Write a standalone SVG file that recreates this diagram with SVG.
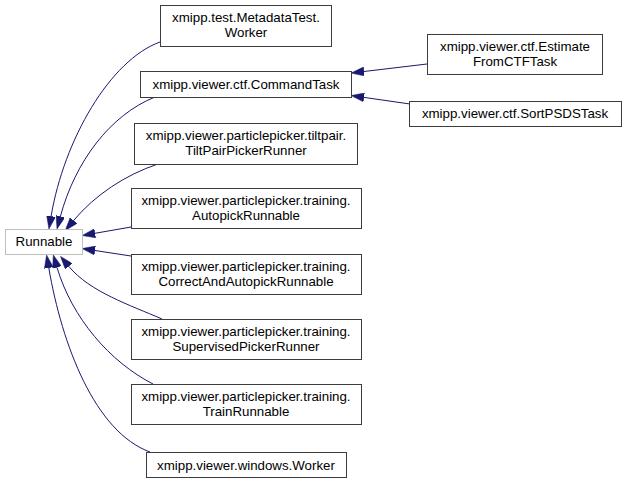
<svg xmlns="http://www.w3.org/2000/svg" width="627" height="482" viewBox="0 0 627 482">
<style>
.n rect{fill:#fff;stroke:#3c3c3c;stroke-width:1}
.base rect{fill:#fff;stroke:#bfbfbf;stroke-width:1}
text{font-family:"Liberation Sans",Arial,Helvetica,sans-serif;font-size:13.3px;fill:#000;text-anchor:middle}
.e path{fill:none;stroke:#191970;stroke-width:1;marker-end:url(#ah)}
</style>
<defs>
<marker id="ah" markerUnits="userSpaceOnUse" markerWidth="13" markerHeight="9" viewBox="0 0 13 9" refX="0" refY="4.5" orient="auto">
<path d="M0,0 L13,4.5 L0,9 z" fill="#191970" stroke="#191970" stroke-width="0.5"/>
</marker>
</defs>
<rect width="627" height="482" fill="#fff"/>
<g id="edges" class="e">
<path d="M160,42 C110,60 64,140 51.1,216.2"/>
<path d="M155,97 C110,115 75,162 60.4,216.4"/>
<path d="M158,164 C125,175 95,195 73.6,220.5"/>
<path d="M131,227 L95,233.3"/>
<path d="M131,256 L95,250.5"/>
<path d="M162,319 C130,305 90,292 68.8,266.4"/>
<path d="M153,384 C110,362 72,318 57,267.4"/>
<path d="M150,452 C95,432 62,345 48.8,267.9"/>
<path d="M427,64 L364,71.5"/>
<path d="M410,104 L364,97.4"/>
</g>
<g id="runnable" class="base"><rect x="5.5" y="229.5" width="77" height="25"/><text x="44" y="246">Runnable</text></g>
<g id="metadatatest_worker" class="n"><rect x="160.5" y="5.5" width="171" height="41"/><text x="246" y="22">xmipp.test.MetadataTest.</text><text x="246" y="37">Worker</text></g>
<g id="commandtask" class="n"><rect x="140.5" y="71.5" width="211" height="26"/><text x="246" y="88.5">xmipp.viewer.ctf.CommandTask</text></g>
<g id="tiltpairpickerrunner" class="n"><rect x="134.5" y="123.5" width="223" height="41"/><text x="246" y="140">xmipp.viewer.particlepicker.tiltpair.</text><text x="246" y="155">TiltPairPickerRunner</text></g>
<g id="autopickrunnable" class="n"><rect x="131.5" y="188.5" width="230" height="40"/><text x="246" y="205">xmipp.viewer.particlepicker.training.</text><text x="246" y="220">AutopickRunnable</text></g>
<g id="correctandautopickrunnable" class="n"><rect x="131.5" y="254.5" width="230" height="40"/><text x="246" y="271">xmipp.viewer.particlepicker.training.</text><text x="246" y="286">CorrectAndAutopickRunnable</text></g>
<g id="supervisedpickerrunner" class="n"><rect x="131.5" y="319.5" width="230" height="40"/><text x="246" y="336">xmipp.viewer.particlepicker.training.</text><text x="246" y="351">SupervisedPickerRunner</text></g>
<g id="trainrunnable" class="n"><rect x="131.5" y="384.5" width="230" height="40"/><text x="246" y="401">xmipp.viewer.particlepicker.training.</text><text x="246" y="416">TrainRunnable</text></g>
<g id="windows_worker" class="n"><rect x="146.5" y="452.5" width="200" height="25"/><text x="246" y="469.5">xmipp.viewer.windows.Worker</text></g>
<g id="estimatefromctftask" class="n"><rect x="427.5" y="34.5" width="175" height="40"/><text x="515" y="51">xmipp.viewer.ctf.Estimate</text><text x="515" y="66">FromCTFTask</text></g>
<g id="sortpsdstask" class="n"><rect x="409.5" y="101.5" width="212" height="25"/><text x="515" y="118">xmipp.viewer.ctf.SortPSDSTask</text></g>
</svg>
